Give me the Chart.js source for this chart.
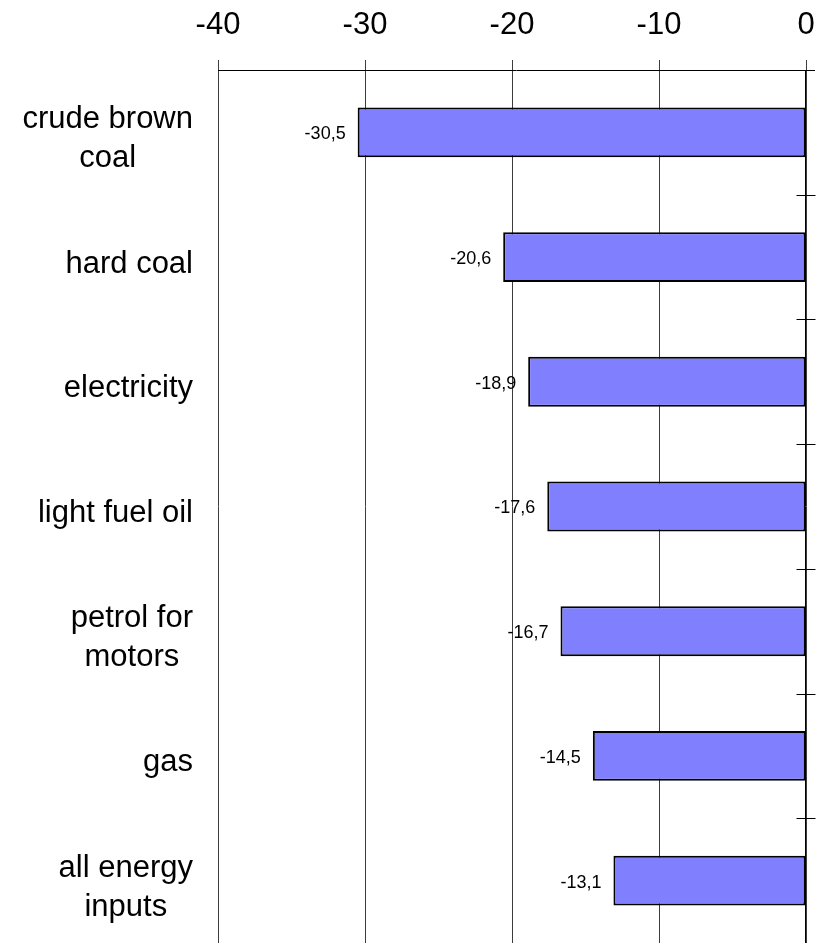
<!DOCTYPE html>
<html>
<head>
<meta charset="utf-8">
<script src="https://cdn.jsdelivr.net/npm/chart.js@4/dist/chart.umd.min.js"></script>
<style>
body{margin:0;background:#fff;}
canvas{display:block;}
</style>
</head>
<body>
<canvas id="barChart" width="818" height="944"></canvas>
<script>
// energy price change, per cent
const categories = [
  ["crude brown","coal"],
  "hard coal",
  "electricity",
  "light fuel oil",
  ["petrol for","motors"],
  "gas",
  ["all energy","inputs"]
];
const changes = [-30.5, -20.6, -18.9, -17.6, -16.7, -14.5, -13.1];
const xTicks = [-40, -30, -20, -10, 0];

const FONT = "'Liberation Sans', Arial, sans-serif";

// category names left of the plot, lines centred inside a right-aligned block
const categoryLabels = {
  id: "categoryLabels",
  afterDraw(chart){
    const ctx = chart.ctx;
    const y = chart.scales.y;
    ctx.save();
    ctx.font = "31px " + FONT;
    ctx.fillStyle = "#000";
    ctx.textAlign = "center";
    ctx.textBaseline = "alphabetic";
    chart.data.labels.forEach((lab, i) => {
      const lines = Array.isArray(lab) ? lab : [lab];
      const widest = Math.max(...lines.map(l => ctx.measureText(l).width));
      const cx = 193 - widest / 2;
      const cy = y.getPixelForValue(i);
      lines.forEach((l, j) => {
        const off = (j - (lines.length - 1) / 2) * 39;
        ctx.fillText(l, cx, cy + 15.5 + off);
      });
    });
    ctx.restore();
  }
};

// axis lines: top value axis and right category axis with crossing ticks
const axisLines = {
  id: "axisLines",
  afterDraw(chart){
    const ctx = chart.ctx;
    const a = chart.chartArea;
    const y = chart.scales.y;
    const xr = Math.round(a.right) - 0.5;
    ctx.save();
    ctx.strokeStyle = "#000";
    ctx.lineWidth = 1;
    ctx.beginPath();
    ctx.moveTo(a.left, Math.round(a.top) + 0.5);
    ctx.lineTo(815, Math.round(a.top) + 0.5);
    ctx.moveTo(xr, a.top);
    ctx.lineTo(xr, a.bottom);
    for (let i = 0; i < chart.data.labels.length - 1; i++) {
      const b = Math.round((y.getPixelForValue(i) + y.getPixelForValue(i + 1)) / 2) + 0.5;
      ctx.moveTo(xr - 9, b);
      ctx.lineTo(xr + 10, b);
    }
    ctx.stroke();
    ctx.restore();
  }
};

// value labels to the left of each bar end
const valueLabels = {
  id: "valueLabels",
  afterDatasetsDraw(chart){
    const ctx = chart.ctx;
    const meta = chart.getDatasetMeta(0);
    ctx.save();
    ctx.font = "18px " + FONT;
    ctx.fillStyle = "#000";
    ctx.textAlign = "right";
    ctx.textBaseline = "middle";
    meta.data.forEach((bar, i) => {
      const txt = String(changes[i]).replace(".", ",");
      ctx.fillText(txt, bar.x - 12, bar.y + 2);
    });
    ctx.restore();
  }
};

new Chart(document.getElementById("barChart"), {
  type: "bar",
  data: {
    labels: categories,
    datasets: [{
      data: changes,
      backgroundColor: "#8080ff",
      borderColor: "#000",
      borderWidth: 2,
      borderSkipped: false,
      barPercentage: 0.4,
      categoryPercentage: 1
    }]
  },
  options: {
    indexAxis: "y",
    responsive: false,
    devicePixelRatio: 1,
    animation: false,
    layout: { padding: { left: 218, right: 12, top: -9, bottom: 1 } },
    plugins: { legend: { display: false }, tooltip: { enabled: false } },
    scales: {
      x: {
        position: "top",
        min: xTicks[0],
        max: xTicks[xTicks.length - 1],
        afterBuildTicks(scale){
          scale.ticks = xTicks.map(v => ({ value: v }));
        },
        border: { display: false },
        grid: { color: "#3c3c3c", lineWidth: 1, drawTicks: true, tickLength: 10, tickColor: "#3c3c3c" },
        // tall line box keeps the labels clear of the tick marks
        ticks: { color: "#000", padding: 0, font: { family: FONT, size: 31, lineHeight: 2.226 } }
      },
      y: {
        display: false,
        offset: true
      }
    }
  },
  plugins: [valueLabels, axisLines, categoryLabels]
});
</script>
</body>
</html>
